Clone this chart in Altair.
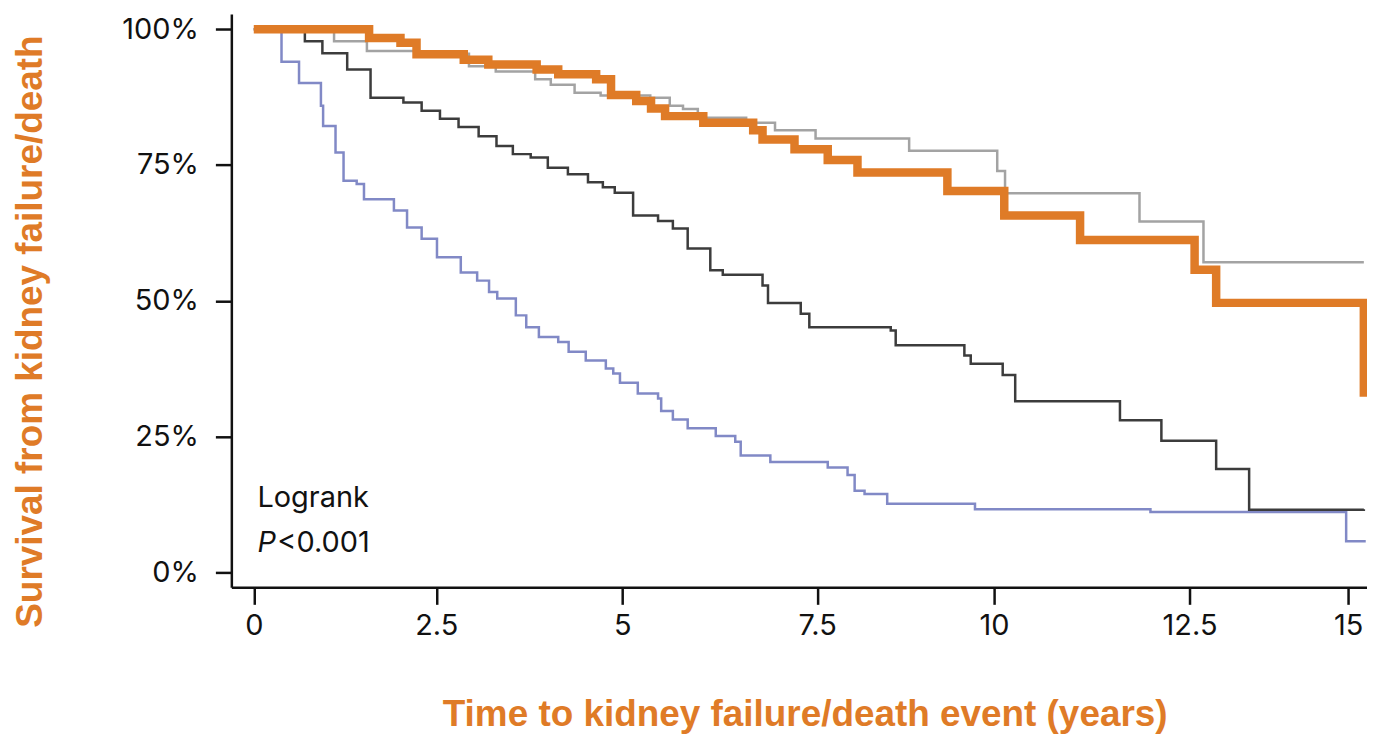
import altair as alt
import pandas as pd

# Kaplan-Meier curves (time in years, survival in %)
orange_t = [0, 1.58, 2.01, 2.23, 2.87, 3.20, 3.85, 4.14, 4.65, 4.85, 5.18, 5.37, 5.55, 6.04, 6.68, 6.80, 7.21, 7.65, 8.07, 9.34, 10.13, 11.10, 12.58, 12.92, 15.25]
orange_s = [100, 98.4, 97.5, 95.4, 94.4, 93.5, 92.6, 91.7, 90.8, 87.9, 86.8, 85.4, 84.0, 82.8, 81.4, 79.7, 77.9, 75.9, 73.6, 70.2, 65.7, 61.2, 55.7, 49.6, 32.3]

gray_t = [0, 1.10, 1.55, 2.22, 2.94, 3.30, 3.83, 4.04, 4.36, 4.71, 5.36, 5.61, 5.78, 5.97, 6.59, 6.96, 7.48, 8.80, 10.04, 10.14, 11.86, 12.72, 15.25]
gray_s = [100, 97.8, 96.0, 95.5, 93.2, 92.2, 90.8, 89.8, 88.3, 87.8, 87.4, 85.9, 85.3, 83.7, 82.8, 81.4, 79.9, 77.6, 73.9, 69.8, 64.6, 57.1, 57.1]

black_t = [0, 0.70, 0.94, 1.28, 1.60, 2.05, 2.30, 2.55, 2.80, 3.07, 3.31, 3.53, 3.77, 4.00, 4.27, 4.54, 4.74, 4.90, 5.14, 5.46, 5.65, 5.84, 6.13, 6.29, 6.80, 6.87, 7.29, 7.40, 8.54, 8.61, 9.58, 9.67, 10.11, 10.27, 11.61, 12.14, 12.92, 13.44, 15.25]
black_s = [100, 97.8, 95.6, 92.6, 87.4, 86.5, 85.0, 83.5, 82.0, 80.3, 78.5, 77.0, 76.4, 74.5, 73.3, 71.8, 70.9, 69.9, 65.7, 64.7, 63.3, 59.6, 55.6, 54.8, 52.8, 49.6, 47.6, 45.1, 44.5, 41.8, 39.9, 38.4, 36.3, 31.5, 28.0, 24.2, 19.0, 11.5, 11.6]

purple_t = [0, 0.38, 0.62, 0.92, 0.95, 1.12, 1.23, 1.41, 1.51, 1.92, 2.10, 2.30, 2.51, 2.83, 3.05, 3.21, 3.32, 3.57, 3.71, 3.88, 4.14, 4.28, 4.51, 4.78, 4.88, 4.97, 5.20, 5.46, 5.50, 5.65, 5.84, 6.20, 6.45, 6.52, 6.90, 7.65, 7.93, 8.03, 8.17, 8.49, 9.73, 12.0, 14.97, 15.28]
purple_s = [100, 94.0, 90.1, 85.9, 82.2, 77.3, 72.1, 71.5, 68.7, 66.6, 63.5, 61.4, 58.0, 55.2, 53.7, 51.6, 50.4, 47.3, 45.1, 43.3, 42.4, 40.6, 39.0, 37.5, 36.6, 34.9, 32.9, 32.0, 29.7, 28.1, 26.5, 25.1, 24.0, 21.5, 20.3, 19.3, 17.9, 15.0, 14.4, 12.6, 11.6, 11.1, 5.7, 5.7]

x_ticks = [0, 2.5, 5, 7.5, 10, 12.5, 15]
y_ticks = [0, 25, 50, 75, 100]

annot_text = ["Logrank"]
annot_x = [0.05]
annot_y = [12.0]
p_x = [0.05]
p_y = [3.8]

W, H = 1139, 575

# piecewise x scale (the reference's tick spacing is uneven)
x_scale = alt.Scale(domain=[-0.31, 0, 2.5, 5, 7.5, 10, 12.5, 15, 15.3],
                    range=[0, 22.5, 205.5, 392, 587.5, 765, 961, 1120, 1139],
                    nice=False, zero=False)
y_scale = alt.Scale(domain=[-2.8, 102.8], nice=False, zero=False)

FONT = "Inter"
FS = 29
TITLE_FONT = "Liberation Sans"
TFS = 37
ORANGE = "#DF7B27"

x_axis = alt.Axis(values=x_ticks, title="Time to kidney failure/death event (years)",
                  labelExpr="datum.value", labelFont=FONT, labelFontSize=FS,
                  labelColor="#111111", labelPadding=7, tickSize=17, tickWidth=2.5,
                  tickColor="#111111", domainColor="#111111", domainWidth=2.5,
                  titleFont=TITLE_FONT, titleFontSize=TFS, titleFontWeight="bold",
                  titleColor=ORANGE, titleX=575, titleY=139, titleBaseline="alphabetic",
                  titleAlign="center", grid=False)
y_axis = alt.Axis(values=y_ticks, title="Survival from kidney failure/death",
                  labelExpr="datum.value + '%'", labelFont=FONT, labelFontSize=FS,
                  labelColor="#111111", labelPadding=17, tickSize=16, tickWidth=2.5,
                  tickColor="#111111", domainColor="#111111", domainWidth=2.5,
                  titleFont=TITLE_FONT, titleFontSize=TFS, titleFontWeight="bold",
                  titleColor=ORANGE, titleX=-190, titleY=318, titleBaseline="alphabetic",
                  titleAlign="center", titleAngle=-90, grid=False)

X = lambda f: alt.X(f, scale=x_scale, axis=x_axis)
Y = lambda f: alt.Y(f, scale=y_scale, axis=y_axis)


def curve(t, s, color, width):
    df = pd.DataFrame({"t": t, "s": s})
    return alt.Chart(df).mark_line(interpolate="step-after", color=color,
                                   strokeWidth=width, strokeJoin="miter").encode(x=X("t:Q"), y=Y("s:Q"))


purple = curve(purple_t, purple_s, "#8189C6", 2.5)
black = curve(black_t, black_s, "#3C3C3C", 2.5)
gray = curve(gray_t, gray_s, "#A3A3A3", 2.5)
orange = curve(orange_t, orange_s, ORANGE, 8.5)

logrank = alt.Chart(pd.DataFrame({"x": annot_x, "y": annot_y, "label": annot_text})).mark_text(
    align="left", baseline="alphabetic", font=FONT, fontSize=FS, color="#111111"
).encode(x=X("x:Q"), y=Y("y:Q"), text="label:N")

p_italic = alt.Chart(pd.DataFrame({"x": p_x, "y": p_y, "label": ["P"]})).mark_text(
    align="left", baseline="alphabetic", font=FONT, fontSize=FS, fontStyle="italic", color="#111111"
).encode(x=X("x:Q"), y=Y("y:Q"), text="label:N")

p_value = alt.Chart(pd.DataFrame({"x": p_x, "y": p_y, "label": ["<0.001"]})).mark_text(
    align="left", baseline="alphabetic", font=FONT, fontSize=FS, color="#111111", dx=20
).encode(x=X("x:Q"), y=Y("y:Q"), text="label:N")

chart = alt.layer(purple, black, gray, orange, logrank, p_italic, p_value).properties(
    width=W, height=H,
    background="white",
    autosize=alt.AutoSizeParams(type="none"),
    padding={"left": 224, "top": 5, "right": 0, "bottom": 150},
).configure_view(stroke=None)

chart.save("out.html", embed_options={"renderer": "svg", "actions": False})
